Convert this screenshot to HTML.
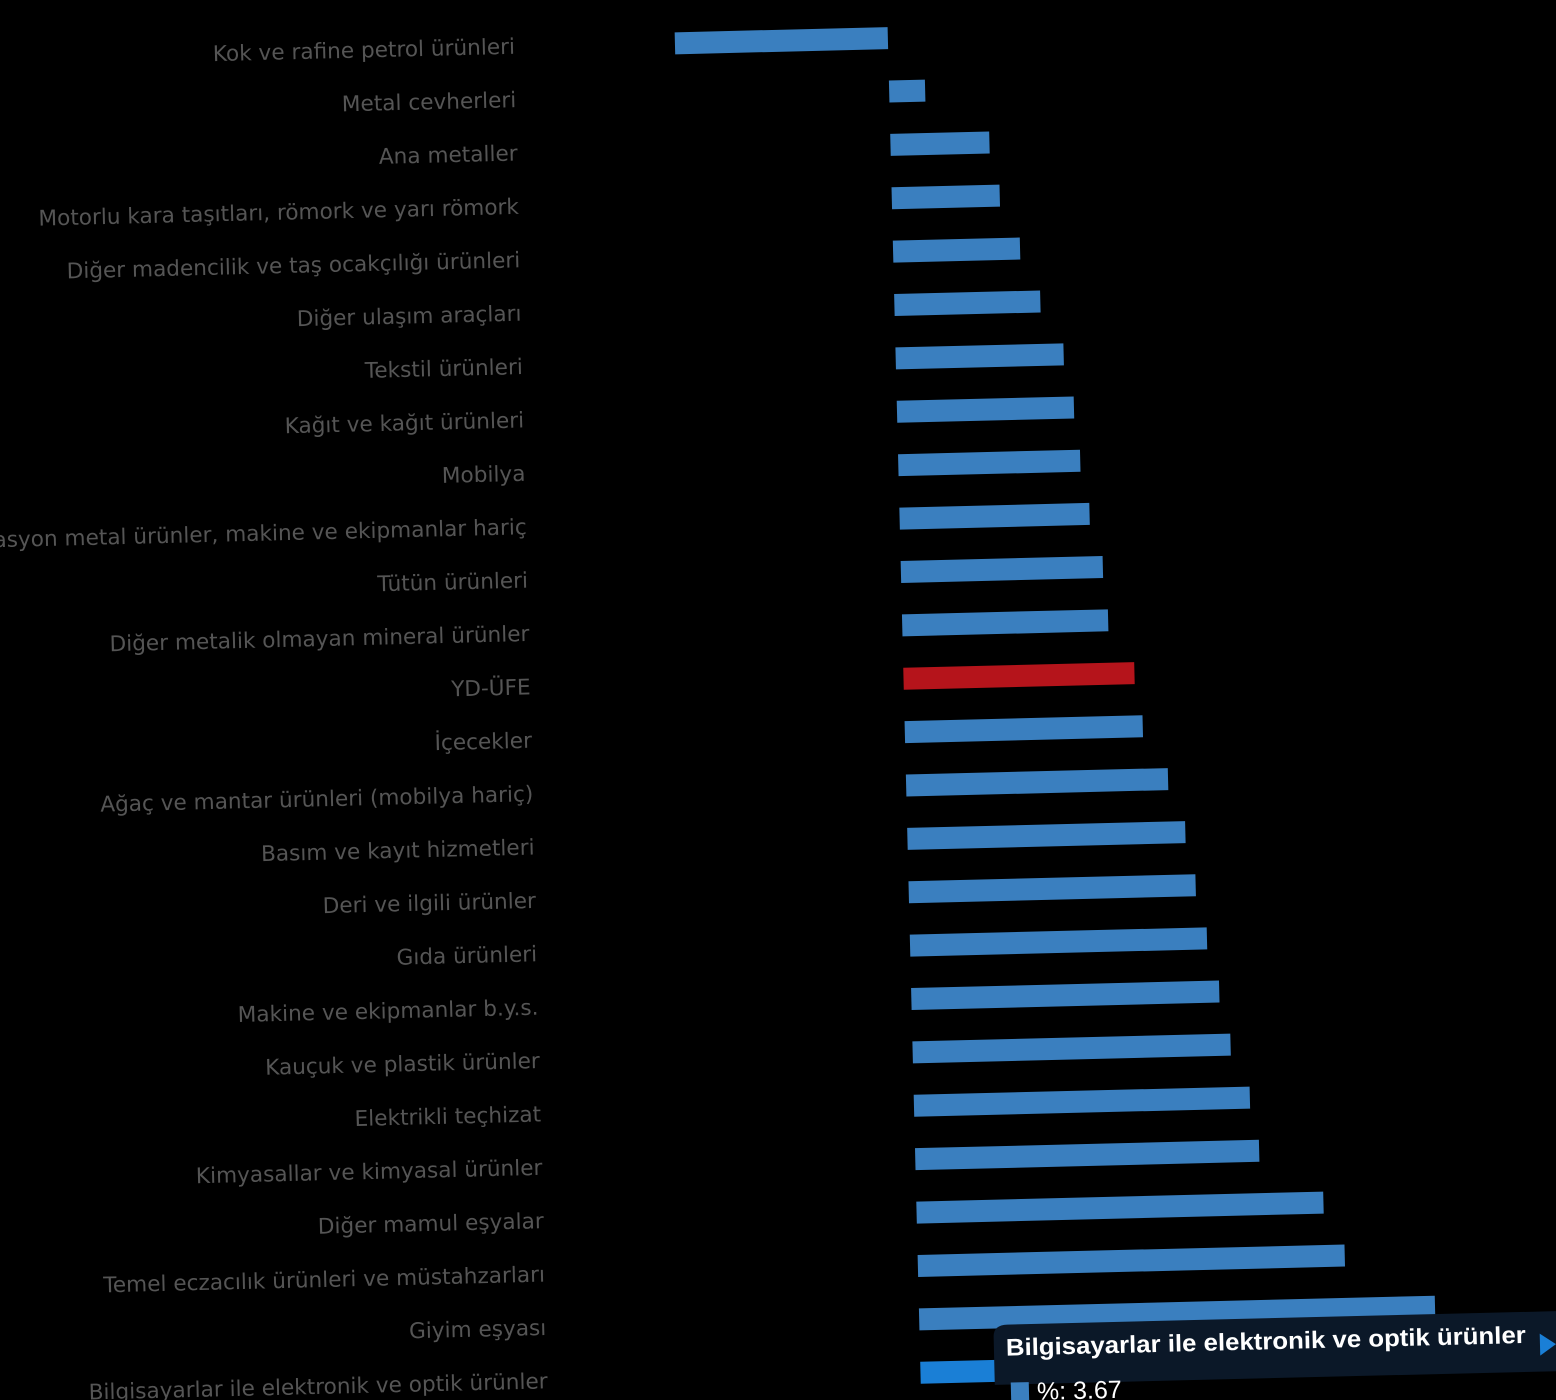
<!DOCTYPE html>
<html><head><meta charset="utf-8"><style>
html,body{margin:0;padding:0;background:#000;width:1556px;height:1400px;overflow:hidden}
svg{display:block}
.l{font-family:"DejaVu Sans","Liberation Sans",sans-serif;font-size:21.6px;fill:#555;text-anchor:end;dominant-baseline:central}
</style></head><body>
<svg width="1556" height="1400" viewBox="0 0 1556 1400">
<g transform="rotate(-1.4 778 700)">
<g>
<text class="l" x="531" y="41">Kok ve rafine petrol ürünleri</text><rect x="691" y="30" width="213" height="22" fill="#3a7fbf"/>
<text class="l" x="531" y="94.4">Metal cevherleri</text><rect x="904" y="83.4" width="36" height="22" fill="#3a7fbf"/>
<text class="l" x="531" y="147.8">Ana metaller</text><rect x="904" y="136.8" width="99" height="22" fill="#3a7fbf"/>
<text class="l" x="531" y="201.2">Motorlu kara taşıtları, römork ve yarı römork</text><rect x="904" y="190.2" width="108" height="22" fill="#3a7fbf"/>
<text class="l" x="531" y="254.6">Diğer madencilik ve taş ocakçılığı ürünleri</text><rect x="904" y="243.6" width="127" height="22" fill="#3a7fbf"/>
<text class="l" x="531" y="308">Diğer ulaşım araçları</text><rect x="904" y="297" width="146" height="22" fill="#3a7fbf"/>
<text class="l" x="531" y="361.4">Tekstil ürünleri</text><rect x="904" y="350.4" width="168" height="22" fill="#3a7fbf"/>
<text class="l" x="531" y="414.8">Kağıt ve kağıt ürünleri</text><rect x="904" y="403.8" width="177" height="22" fill="#3a7fbf"/>
<text class="l" x="531" y="468.2">Mobilya</text><rect x="904" y="457.2" width="182" height="22" fill="#3a7fbf"/>
<text class="l" x="531" y="521.6">Fabrikasyon metal ürünler, makine ve ekipmanlar hariç</text><rect x="904" y="510.6" width="190" height="22" fill="#3a7fbf"/>
<text class="l" x="531" y="575">Tütün ürünleri</text><rect x="904" y="564" width="202" height="22" fill="#3a7fbf"/>
<text class="l" x="531" y="628.4">Diğer metalik olmayan mineral ürünler</text><rect x="904" y="617.4" width="206" height="22" fill="#3a7fbf"/>
<text class="l" x="531" y="681.8">YD-ÜFE</text><rect x="904" y="670.8" width="231" height="22" fill="#b5141b"/>
<text class="l" x="531" y="735.2">İçecekler</text><rect x="904" y="724.2" width="238" height="22" fill="#3a7fbf"/>
<text class="l" x="531" y="788.6">Ağaç ve mantar ürünleri (mobilya hariç)</text><rect x="904" y="777.6" width="262" height="22" fill="#3a7fbf"/>
<text class="l" x="531" y="842">Basım ve kayıt hizmetleri</text><rect x="904" y="831" width="278" height="22" fill="#3a7fbf"/>
<text class="l" x="531" y="895.4">Deri ve ilgili ürünler</text><rect x="904" y="884.4" width="287" height="22" fill="#3a7fbf"/>
<text class="l" x="531" y="948.8">Gıda ürünleri</text><rect x="904" y="937.8" width="297" height="22" fill="#3a7fbf"/>
<text class="l" x="531" y="1002.2">Makine ve ekipmanlar b.y.s.</text><rect x="904" y="991.2" width="308" height="22" fill="#3a7fbf"/>
<text class="l" x="531" y="1055.6">Kauçuk ve plastik ürünler</text><rect x="904" y="1044.6" width="318" height="22" fill="#3a7fbf"/>
<text class="l" x="531" y="1109">Elektrikli teçhizat</text><rect x="904" y="1098" width="336" height="22" fill="#3a7fbf"/>
<text class="l" x="531" y="1162.4">Kimyasallar ve kimyasal ürünler</text><rect x="904" y="1151.4" width="344" height="22" fill="#3a7fbf"/>
<text class="l" x="531" y="1215.8">Diğer mamul eşyalar</text><rect x="904" y="1204.8" width="407" height="22" fill="#3a7fbf"/>
<text class="l" x="531" y="1269.2">Temel eczacılık ürünleri ve müstahzarları</text><rect x="904" y="1258.2" width="427" height="22" fill="#3a7fbf"/>
<text class="l" x="531" y="1322.6">Giyim eşyası</text><rect x="904" y="1311.6" width="516" height="22" fill="#3a7fbf"/>
<text class="l" x="531" y="1376">Bilgisayarlar ile elektronik ve optik ürünler</text><rect x="904" y="1365" width="600" height="22" fill="#1a7fd6"/>
</g>
<!-- tooltip -->
<path d="M978 1342 Q978 1330 992 1330 L1620 1330 L1620 1390 L978 1390 Z" fill="#0b1828"/>
<path d="M1524 1352 L1540 1363 L1524 1374 Z" fill="#1a7fd6"/>
<text x="990" y="1361" font-family="Liberation Sans,sans-serif" font-weight="bold" font-size="24" textLength="520" lengthAdjust="spacingAndGlyphs" fill="#fff">Bilgisayarlar ile elektronik ve optik ürünler</text>
<rect x="994" y="1388" width="18" height="22" fill="#3a7fbf"/>
<text x="1020" y="1406" font-family="Liberation Sans,sans-serif" font-size="25" fill="#fff">%: 3.67</text>
</g>
</svg>
</body></html>
